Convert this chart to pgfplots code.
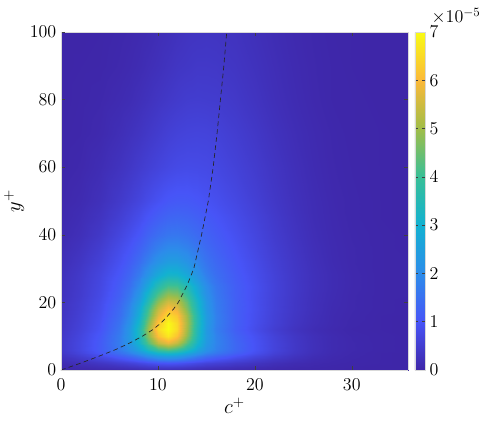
\RequirePackage{fix-cm}
\documentclass[border=0pt]{standalone}
\usepackage{pgfplots}
\pgfplotsset{compat=1.18}

\pgfplotsset{
  colormap={parula}{rgb255=(62,38,168) rgb255=(71,84,247) rgb255=(44,140,234)
    rgb255=(18,177,209) rgb255=(56,191,151) rgb255=(160,189,72)
    rgb255=(251,185,57) rgb255=(249,251,20)}
}

% joint pdf of c+ and y+ (values in units of 1e-5)
\pgfplotstableread{
x y z
0 0 0.02
2 0 0.03
4 0 0.05
6 0 0.07
7 0 0.09
8 0 0.10
9 0 0.13
10 0 0.14
11 0 0.15
12 0 0.14
13 0 0.13
14 0 0.11
15 0 0.09
16 0 0.08
18 0 0.06
20 0 0.04
22 0 0.03
24 0 0.02
26 0 0.01
28 0 0.01
30 0 0
33 0 0
36 0 0
0 1 0.07
2 1 0.11
4 1 0.18
6 1 0.25
7 1 0.30
8 1 0.36
9 1 0.42
10 1 0.48
11 1 0.50
12 1 0.48
13 1 0.43
14 1 0.37
15 1 0.32
16 1 0.28
18 1 0.21
20 1 0.15
22 1 0.10
24 1 0.06
26 1 0.04
28 1 0.02
30 1 0.01
33 1 0
36 1 0
0 2 0.13
2 2 0.23
4 2 0.35
6 2 0.51
7 2 0.60
8 2 0.72
9 2 0.84
10 2 0.96
11 2 1.00
12 2 0.96
13 2 0.85
14 2 0.74
15 2 0.63
16 2 0.57
18 2 0.43
20 2 0.31
22 2 0.20
24 2 0.12
26 2 0.07
28 2 0.04
30 2 0.02
33 2 0.01
36 2 0
0 3 0.21
2 3 0.36
4 3 0.56
6 3 0.80
7 3 0.96
8 3 1.17
9 3 1.41
10 3 1.62
11 3 1.70
12 3 1.62
13 3 1.42
14 3 1.20
15 3 1.02
16 3 0.88
18 3 0.67
20 3 0.48
22 3 0.32
24 3 0.20
26 3 0.11
28 3 0.06
30 3 0.03
33 3 0.01
36 3 0
0 4 0.30
2 4 0.52
4 4 0.81
6 4 1.17
7 4 1.40
8 4 1.70
9 4 2.06
10 4 2.37
11 4 2.50
12 4 2.38
13 4 2.08
14 4 1.75
15 4 1.48
16 4 1.28
18 4 0.97
20 4 0.70
22 4 0.47
24 4 0.29
26 4 0.16
28 4 0.08
30 4 0.04
33 4 0.01
36 4 0
0 5 0.37
2 5 0.65
4 5 1.02
6 5 1.47
7 5 1.78
8 5 2.19
9 5 2.68
10 5 3.12
11 5 3.30
12 5 3.13
13 5 2.71
14 5 2.25
15 5 1.87
16 5 1.61
18 5 1.22
20 5 0.88
22 5 0.58
24 5 0.36
26 5 0.20
28 5 0.10
30 5 0.05
33 5 0.01
36 5 0
0 6 0.41
2 6 0.72
4 6 1.12
6 6 1.64
7 6 2.03
8 6 2.59
9 6 3.30
10 6 3.94
11 6 4.20
12 6 3.94
13 6 3.33
14 6 2.66
15 6 2.14
16 6 1.79
18 6 1.34
20 6 0.96
22 6 0.64
24 6 0.39
26 6 0.22
28 6 0.11
30 6 0.06
33 6 0.02
36 6 0
0 8 0.41
2 8 0.72
4 8 1.12
6 8 1.71
7 8 2.25
8 8 3.11
9 8 4.27
10 8 5.35
11 8 5.80
12 8 5.36
13 8 4.30
14 8 3.18
15 8 2.35
16 8 1.86
18 8 1.34
20 8 0.96
22 8 0.64
24 8 0.39
26 8 0.22
28 8 0.11
30 8 0.06
33 8 0.02
36 8 0
0 10 0.39
2 10 0.68
4 10 1.07
6 10 1.69
7 10 2.30
8 10 3.35
9 10 4.78
10 10 6.13
11 10 6.70
12 10 6.14
13 10 4.81
14 10 3.41
15 10 2.40
16 10 1.83
18 10 1.28
20 10 0.92
22 10 0.61
24 10 0.37
26 10 0.21
28 10 0.11
30 10 0.05
33 10 0.02
36 10 0
0 12 0.35
2 12 0.62
4 12 0.98
6 12 1.59
7 12 2.26
8 12 3.39
9 12 4.97
10 12 6.46
11 12 7.00
12 12 6.49
13 12 5.03
14 12 3.49
15 12 2.38
16 12 1.75
18 12 1.19
20 12 0.82
22 12 0.52
24 12 0.30
26 12 0.16
28 12 0.08
30 12 0.03
33 12 0.01
36 12 0
0 14 0.33
2 14 0.59
4 14 0.94
6 14 1.52
7 14 2.12
8 14 3.18
9 14 4.69
10 14 6.21
11 14 6.95
12 14 6.46
13 14 5.08
14 14 3.55
15 14 2.43
16 14 1.79
18 14 1.22
20 14 0.86
22 14 0.57
24 14 0.34
26 14 0.19
28 14 0.10
30 14 0.04
33 14 0.01
36 14 0
0 16 0.31
2 16 0.56
4 16 0.89
6 16 1.43
7 16 1.97
8 16 2.93
9 16 4.32
10 16 5.77
11 16 6.58
12 16 6.23
13 16 4.98
14 16 3.53
15 16 2.43
16 16 1.78
18 16 1.21
20 16 0.87
22 16 0.58
24 16 0.36
26 16 0.20
28 16 0.10
30 16 0.05
33 16 0.01
36 16 0
0 18 0.29
2 18 0.53
4 18 0.85
6 18 1.37
7 18 1.87
8 18 2.76
9 18 4.05
10 18 5.38
11 18 6.12
12 18 5.81
13 18 4.68
14 18 3.35
15 18 2.34
16 18 1.74
18 18 1.21
20 18 0.89
22 18 0.60
24 18 0.38
26 18 0.22
28 18 0.11
30 18 0.06
33 18 0.02
36 18 0
0 20 0.29
2 20 0.51
4 20 0.82
6 20 1.29
7 20 1.74
8 20 2.49
9 20 3.61
10 20 4.83
11 20 5.56
12 20 5.38
13 20 4.42
14 20 3.23
15 20 2.29
16 20 1.72
18 20 1.21
20 20 0.88
22 20 0.60
24 20 0.38
26 20 0.22
28 20 0.12
30 20 0.06
33 20 0.02
36 20 0
0 22 0.26
2 22 0.47
4 22 0.77
6 22 1.21
7 22 1.62
8 22 2.29
9 22 3.28
10 22 4.35
11 22 5.00
12 22 4.86
13 22 4.02
14 22 2.99
15 22 2.17
16 22 1.67
18 22 1.19
20 22 0.88
22 22 0.61
24 22 0.39
26 22 0.23
28 22 0.13
30 22 0.06
33 22 0.02
36 22 0.01
0 25 0.25
2 25 0.45
4 25 0.73
6 25 1.14
7 25 1.45
8 25 1.98
9 25 2.74
10 25 3.59
11 25 4.13
12 25 4.09
13 25 3.50
14 25 2.70
15 25 2.04
16 25 1.61
18 25 1.18
20 25 0.89
22 25 0.62
24 25 0.40
26 25 0.24
28 25 0.14
30 25 0.07
33 25 0.02
36 25 0.01
0 28 0.23
2 28 0.42
4 28 0.69
6 28 1.04
7 28 1.30
8 28 1.69
9 28 2.22
10 28 2.78
11 28 3.16
12 28 3.13
13 28 2.74
14 28 2.22
15 28 1.77
16 28 1.47
18 28 1.12
20 28 0.85
22 28 0.60
24 28 0.39
26 28 0.24
28 28 0.14
30 28 0.07
33 28 0.02
36 28 0.01
0 32 0.18
2 32 0.35
4 32 0.59
6 32 0.92
7 32 1.14
8 32 1.44
9 32 1.81
10 32 2.20
11 32 2.46
12 32 2.46
13 32 2.21
14 32 1.87
15 32 1.57
16 32 1.35
18 32 1.05
20 32 0.80
22 32 0.56
24 32 0.37
26 32 0.22
28 32 0.12
30 32 0.06
33 32 0.02
36 32 0.01
0 36 0.14
2 36 0.28
4 36 0.50
6 36 0.81
7 36 0.99
8 36 1.23
9 36 1.50
10 36 1.78
11 36 1.97
12 36 1.97
13 36 1.83
14 36 1.61
15 36 1.40
16 36 1.23
18 36 0.98
20 36 0.74
22 36 0.52
24 36 0.34
26 36 0.20
28 36 0.11
30 36 0.06
33 36 0.02
36 36 0
0 40 0.10
2 40 0.21
4 40 0.40
6 40 0.68
7 40 0.85
8 40 1.04
9 40 1.27
10 40 1.47
11 40 1.61
12 40 1.63
13 40 1.54
14 40 1.40
15 40 1.26
16 40 1.13
18 40 0.91
20 40 0.69
22 40 0.48
24 40 0.31
26 40 0.18
28 40 0.10
30 40 0.05
33 40 0.02
36 40 0
0 45 0.07
2 45 0.16
4 45 0.31
6 45 0.54
7 45 0.69
8 45 0.85
9 45 1.03
10 45 1.19
11 45 1.31
12 45 1.34
13 45 1.30
14 45 1.21
15 45 1.11
16 45 1.01
18 45 0.83
20 45 0.63
22 45 0.44
24 45 0.28
26 45 0.16
28 45 0.09
30 45 0.04
33 45 0.01
36 45 0
0 50 0.05
2 50 0.11
4 50 0.23
6 50 0.42
7 50 0.54
8 50 0.67
9 50 0.81
10 50 0.94
11 50 1.05
12 50 1.09
13 50 1.08
14 50 1.03
15 50 0.96
16 50 0.89
18 50 0.74
20 50 0.56
22 50 0.39
24 50 0.25
26 50 0.15
28 50 0.08
30 50 0.04
33 50 0.01
36 50 0
0 60 0.02
2 60 0.06
4 60 0.15
6 60 0.28
7 60 0.37
8 60 0.47
9 60 0.56
10 60 0.65
11 60 0.73
12 60 0.78
13 60 0.80
14 60 0.79
15 60 0.77
16 60 0.73
18 60 0.61
20 60 0.47
22 60 0.33
24 60 0.21
26 60 0.12
28 60 0.06
30 60 0.03
33 60 0.01
36 60 0
0 70 0.01
2 70 0.03
4 70 0.08
6 70 0.18
7 70 0.25
8 70 0.32
9 70 0.40
10 70 0.48
11 70 0.56
12 70 0.61
13 70 0.64
14 70 0.65
15 70 0.64
16 70 0.61
18 70 0.51
20 70 0.39
22 70 0.27
24 70 0.17
26 70 0.10
28 70 0.05
30 70 0.02
33 70 0.01
36 70 0
0 80 0
2 80 0.02
4 80 0.05
6 80 0.11
7 80 0.15
8 80 0.21
9 80 0.27
10 80 0.34
11 80 0.40
12 80 0.45
13 80 0.49
14 80 0.50
15 80 0.49
16 80 0.48
18 80 0.41
20 80 0.31
22 80 0.21
24 80 0.13
26 80 0.07
28 80 0.03
30 80 0.02
33 80 0
36 80 0
0 90 0
2 90 0.01
4 90 0.02
6 90 0.06
7 90 0.09
8 90 0.13
9 90 0.18
10 90 0.23
11 90 0.29
12 90 0.34
13 90 0.37
14 90 0.40
15 90 0.40
16 90 0.39
18 90 0.34
20 90 0.26
22 90 0.18
24 90 0.11
26 90 0.06
28 90 0.03
30 90 0.01
33 90 0
36 90 0
0 100 0
2 100 0
4 100 0.01
6 100 0.04
7 100 0.06
8 100 0.09
9 100 0.12
10 100 0.17
11 100 0.21
12 100 0.26
13 100 0.30
14 100 0.32
15 100 0.33
16 100 0.32
18 100 0.29
20 100 0.22
22 100 0.15
24 100 0.09
26 100 0.05
28 100 0.02
30 100 0.01
33 100 0
36 100 0
}\pdftable

\begin{document}
\begin{tikzpicture}
\useasboundingbox (-45.75pt,-41.25pt) rectangle (313.5pt,277.5pt);
\begin{axis}[
    name=main,
    at={(0,0)}, anchor=south west,
    scale only axis,
    width=260.25pt, height=253.5pt,
    view={0}{90},
    xmin=0, xmax=35.8,
    ymin=0, ymax=100,
    zmin=0, zmax=10,
    xtick={0,10,20,30},
    ytick={0,20,...,100},
    ztick=\empty,
    axis on top,
    axis line style={draw=gray!30},
    tick style={black!75, line width=0.4pt},
    major tick length=3pt,
    tick label style={font=\fontsize{13.5}{15}\selectfont},
    xticklabel style={yshift=-3pt},
    xlabel={$c^+$},
    ylabel={$y^+$},
    label style={font=\fontsize{15.5}{17}\selectfont},
    xlabel style={at={(axis description cs:0.5,-0.13)}, anchor=base},
    ylabel style={at={(axis description cs:-0.118,0.5)}, anchor=base},
    colormap name=parula,
    point meta min=0, point meta max=7,
    colorbar,
    colorbar style={
        width=7.5pt,
        at={(parent axis.north east)}, anchor=north west, xshift=-3.3pt,
        ytick={0,1,...,7},
        axis line style={draw=gray!30},
        major tick length=2pt,
        yticklabel style={font=\fontsize{13.5}{15}\selectfont},
    },
]
\addplot3[surf, shader=interp, mesh/cols=23] table[x=x, y=y, z=z] {\pdftable};
% mean velocity profile
\addplot3[black!85, dash pattern=on 3.5pt off 2.5pt, line width=0.5pt, mark=none] coordinates {
(0,0,10) (2.0,2,10) (3.85,4,10) (5.6,6,10) (7.1,8,10) (8.4,10,10) (9.5,12,10)
(10.35,14,10) (11.0,16,10) (11.6,18,10) (12.1,20,10) (13.0,25,10) (13.7,30,10)
(14.5,40,10) (15.2,50,10) (15.7,60,10) (16.1,70,10) (16.45,80,10) (16.8,90,10) (17.1,100,10)
};
\end{axis}
\node[anchor=base west, font=\fontsize{13.5}{15}\selectfont, xshift=14.25pt, yshift=6.75pt] at (main.north east) {$\times10^{-5}$};
\end{tikzpicture}
\end{document}
